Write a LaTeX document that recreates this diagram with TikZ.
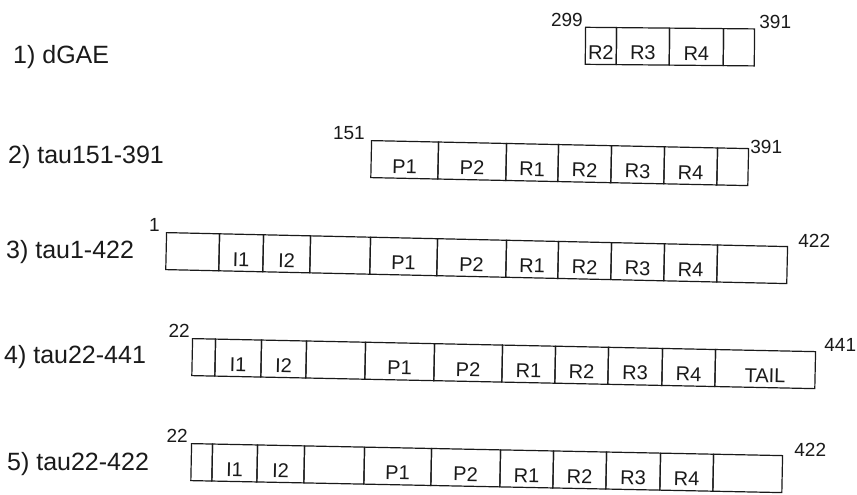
\documentclass[tikz,border=0pt]{standalone}
\usepackage{fontspec}
\setmainfont{Liberation Sans}
\usetikzlibrary{positioning}
\definecolor{ScanInk}{HTML}{1A1A1A}
\newcommand{\segrow}[5]{% row name, left edge, top edge, slope, cells as left/right/text
  \foreach \xa/\xb/\txt [count=\k] in {#5} {
    \node[cell, rotate={-atan(#4)}, minimum width=\xb-\xa]
      (#1c\k) at (\xa,{#3+#4*(\xa-#2)}) {\txt};
  }%
}

\begin{document}
\begin{tikzpicture}[
    x=1pt, y=-1pt,
    cell/.style={
      draw=ScanInk,
      line width=1.2pt,
      anchor=north west,
      inner sep=0pt,
      minimum height=37pt,
      text height=27pt,
      text depth=0pt,
      text=ScanInk,
      font=\fontsize{20}{20}\selectfont
    },
    rowname/.style={anchor=west, inner sep=0pt, text=ScanInk, font=\fontsize{25}{25}\selectfont},
    endnum/.style={inner sep=0pt, text=ScanInk, font=\fontsize{19}{19}\selectfont}
  ]
  \useasboundingbox[fill=white] (0,0) rectangle (857,495);

  % 1) dGAE
  \node[rowname] (name1) at (13,57) {1) dGAE};
  \segrow{r1}{585}{26.7}{0.0095}{585/616/R2, 616/669/R3, 669/723/R4, 723/754/{}}
  \node[endnum, above left=0pt and 2pt of r1c1.north west] (from1) {299};
  \node[endnum, right=4pt of r1c4.north east, yshift=6pt] (to1) {391};

  % 2) tau151-391
  \node[rowname] (name2) at (8,157) {2) tau151-391};
  \segrow{r2}{371}{140}{0.0212}{371/438/P1, 438/506/P2, 506/558/R1, 558/611/R2, 611/664/R3, 664/717/R4, 717/748/{}}
  \node[endnum, above left=0pt and 6pt of r2c1.north west] (from2) {151};
  \node[endnum, right=1pt of r2c7.north east, yshift=1pt] (to2) {391};

  % 3) tau1-422
  \node[rowname] (name3) at (6,252) {3) tau1-422};
  \segrow{r3}{166}{232}{0.0225}{166/219/{}, 219/263/I1, 263/310/I2, 310/370/{}, 370/437/P1, 437/506/P2, 506/558/R1, 558/611/R2, 611/664/R3, 664/717/R4, 717/787/{}}
  \node[endnum, above left=0pt and 6pt of r3c1.north west] (from3) {1};
  \node[endnum, right=10pt of r3c11.north east, yshift=5pt] (to3) {422};

  % 4) tau22-441
  \node[rowname] (name4) at (4,357) {4) tau22-441};
  \segrow{r4}{192}{338}{0.0209}{192/215/{}, 215/261/I1, 261/306/I2, 306/365/{}, 365/434/P1, 434/502/P2, 502/555/R1, 555/608/R2, 608/662/R3, 662/715/R4, 715/815/TAIL}
  \node[endnum, above left=0pt and 2pt of r4c1.north west] (from4) {22};
  \node[endnum, right=8pt of r4c11.north east, yshift=6pt] (to4) {441};

  % 5) tau22-422
  \node[rowname] (name5) at (7,464) {5) tau22-422};
  \segrow{r5}{191}{443}{0.0203}{191/212/{}, 212/257/I1, 257/304/I2, 304/364/{}, 364/431/P1, 431/500/P2, 500/553/R1, 553/606/R2, 606/660/R3, 660/713/R4, 713/782/{}}
  \node[endnum, above left=0pt and 3pt of r5c1.north west] (from5) {22};
  \node[endnum, right=11pt of r5c11.north east, yshift=5pt] (to5) {422};
\end{tikzpicture}
\end{document}
